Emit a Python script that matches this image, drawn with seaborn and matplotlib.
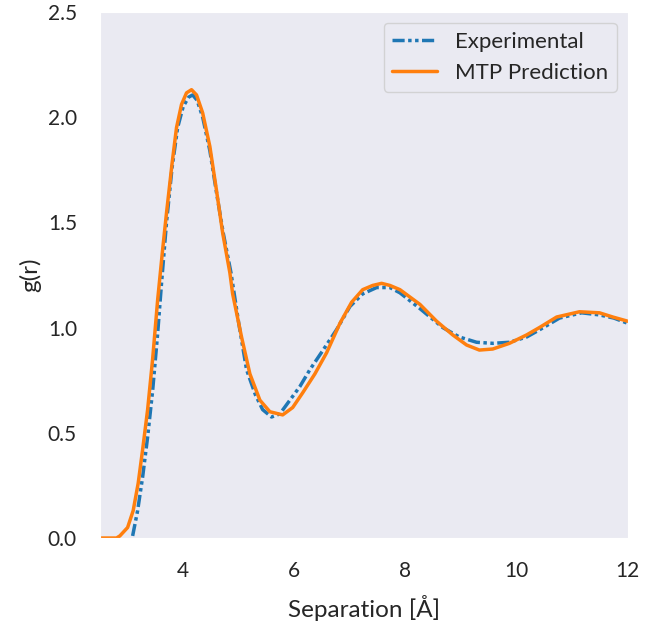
import numpy as np
import pandas as pd
import matplotlib
matplotlib.use('Agg')
import matplotlib.pyplot as plt
import seaborn as sns

# ── Radial distribution data ──
r_exp = [3.05, 3.09, 3.18, 3.27, 3.36, 3.45, 3.54, 3.61, 3.7, 3.8, 3.9, 4.0,
         4.1, 4.17, 4.25, 4.35, 4.48, 4.6, 4.72, 4.86, 5.0, 5.14, 5.3, 5.43,
         5.59, 5.74, 5.92, 6.1, 6.28, 6.51, 6.76, 7.0, 7.23, 7.48, 7.72, 7.9,
         8.26, 8.67, 8.97, 9.28, 9.57, 9.87, 10.18, 10.47, 10.77, 11.17, 11.49,
         11.75, 12.0]
g_exp = [np.nan, 0.01, 0.13, 0.29, 0.48, 0.7, 0.97, 1.21, 1.5, 1.76, 1.95, 2.05,
         2.095, 2.105, 2.08, 2.0, 1.84, 1.64, 1.45, 1.26, 1.02, 0.8, 0.68, 0.61,
         0.575, 0.59, 0.655, 0.72, 0.8, 0.89, 0.99, 1.1, 1.16, 1.19, 1.19, 1.165,
         1.09, 1.0, 0.955, 0.93, 0.925, 0.93, 0.955, 0.998, 1.045, 1.07, 1.06,
         1.045, 1.02]

r_mtp = [2.5, 2.8, 2.86, 3.0, 3.1, 3.19, 3.27, 3.36, 3.45, 3.54, 3.63, 3.7,
         3.8, 3.88, 3.97, 4.06, 4.15, 4.24, 4.35, 4.48, 4.6, 4.71, 4.84, 4.89,
         5.05, 5.2, 5.38, 5.56, 5.79, 5.97, 6.15, 6.37, 6.58, 6.82, 7.03, 7.23,
         7.41, 7.57, 7.72, 7.9, 8.26, 8.56, 8.85, 9.1, 9.33, 9.57, 9.87, 10.18,
         10.41, 10.72, 11.13, 11.49, 11.73, 12.0]
g_mtp = [0.0, 0.0, 0.01, 0.05, 0.13, 0.26, 0.42, 0.61, 0.85, 1.13, 1.37, 1.545,
         1.78, 1.95, 2.06, 2.115, 2.13, 2.105, 2.02, 1.86, 1.65, 1.45, 1.26, 1.16,
         0.955, 0.78, 0.655, 0.6, 0.585, 0.62, 0.69, 0.78, 0.88, 1.02, 1.12, 1.18,
         1.2, 1.21, 1.2, 1.18, 1.11, 1.03, 0.965, 0.917, 0.893, 0.898, 0.925,
         0.965, 1.0, 1.05, 1.075, 1.07, 1.05, 1.03]

sns.set_style('dark')
plt.rcParams['font.family'] = ['Lato', 'DejaVu Sans']

fig = plt.figure(figsize=(6.7, 6.22), dpi=100)
ax = fig.add_axes([0.149, 0.135, 0.788, 0.846])

exp_df = pd.DataFrame({'r': r_exp, 'g': g_exp})
mtp_df = pd.DataFrame({'r': r_mtp, 'g': g_mtp})

sns.lineplot(data=exp_df, x='r', y='g', ax=ax, color='#1f77b4', lw=2.5,
             label='Experimental')
ax.lines[-1].set_dashes((3.5, 1, 1, 1, 1, 1))
sns.lineplot(data=mtp_df, x='r', y='g', ax=ax, color='#ff7f0e', lw=2.5,
             label='MTP Prediction')

ax.set_xlim(2.5, 12)
ax.set_ylim(0, 2.5)
ax.set_xticks([4, 6, 8, 10, 12])
ax.set_yticks([0.0, 0.5, 1.0, 1.5, 2.0, 2.5])
ax.tick_params(labelsize=15, pad=13)
ax.set_xlabel('Separation [Å]', fontsize=17.5, labelpad=10)
ax.set_ylabel('g(r)', fontsize=17.5, labelpad=5)
leg = ax.legend(loc='upper right', fontsize=16)
leg.get_lines()[0].set_dashes((3.5, 1, 1, 1, 1, 1))

fig.savefig('out.png', dpi=100)
